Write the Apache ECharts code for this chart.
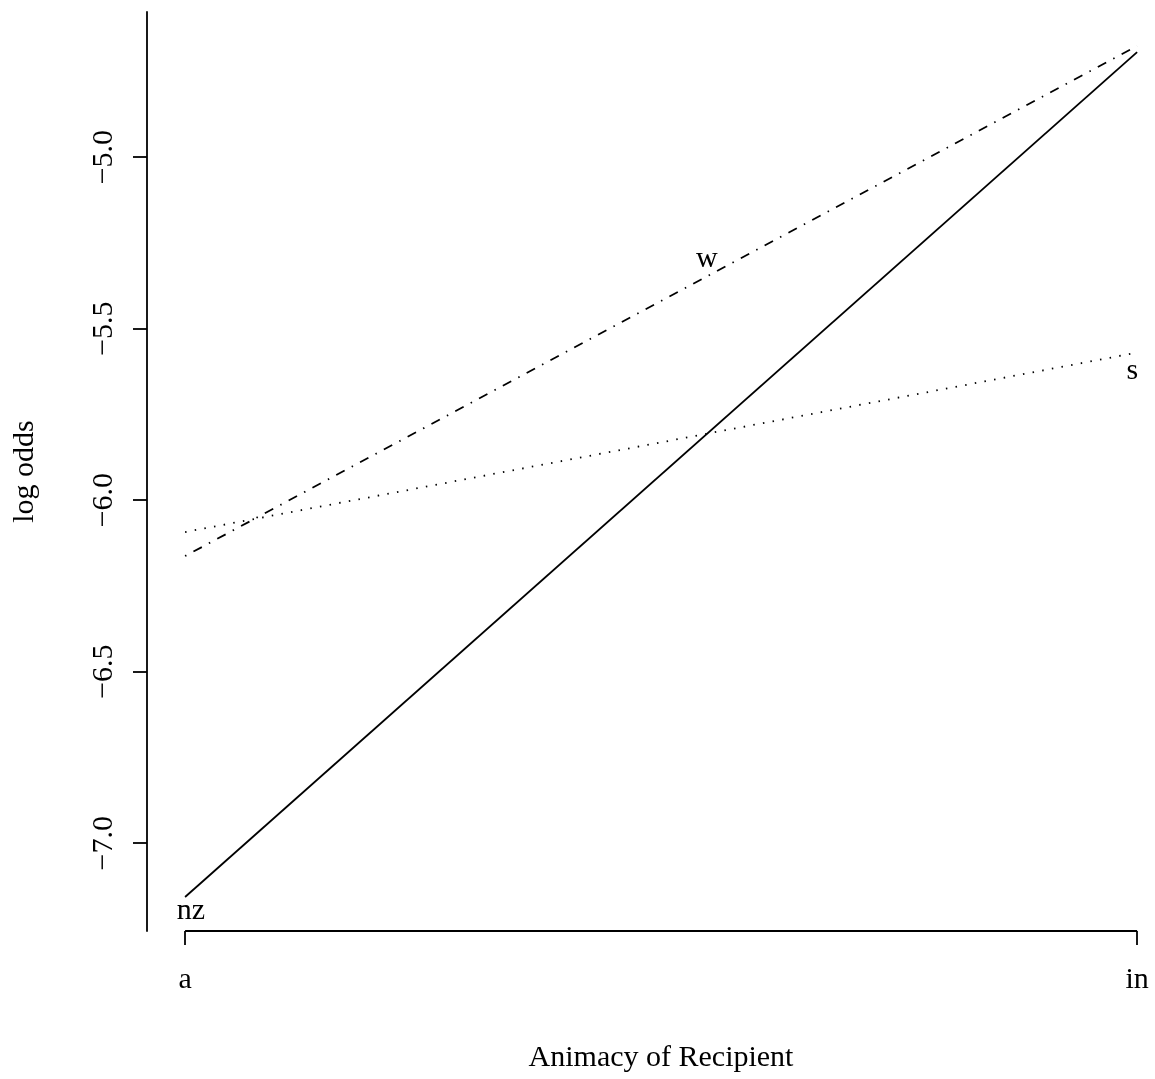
<!DOCTYPE html>
<html>
<head>
<meta charset="utf-8">
<script src="https://cdn.jsdelivr.net/npm/echarts@6/dist/echarts.min.js"></script>
<style>
html,body{margin:0;padding:0;background:#fff;}
#chart{width:1155px;height:1079px;}
</style>
</head>
<body>
<div id="chart"></div>
<script>
// Data
const categories = ['a', 'in'];
const seriesNames = ['nz', 's', 'w'];
const nzValues = [-7.157, -4.694];
const sValues = [-6.093, -5.570];
const wValues = [-6.163, -4.676];
const yTicks = [-7.0, -6.5, -6.0, -5.5, -5.0];
const labelNames = ['nz', 'w', 's'];
const labelX = [1.006, 1.548, 1.995];
const labelY = [-7.197, -5.298, -5.624];

const xMin = 0.96, xMax = 2.0188;
const yMin = -7.256, yMax = -4.577;
const FONT = '"Liberation Serif", "Times New Roman", serif';
const FS = 30;

function pts(vals) { return vals.map((v, i) => [i + 1, v]); }
function fmt(v) { return (v < 0 ? '\u2212' : '') + Math.abs(v).toFixed(1); }

const chart = echarts.init(document.getElementById('chart'), null, {renderer: 'canvas'});
chart.setOption({
  animation: false,
  backgroundColor: '#ffffff',
  grid: {left: 147, right: 0, top: 12, bottom: 148, containLabel: false},
  xAxis: {
    type: 'value', min: xMin, max: xMax,
    name: 'Animacy of Recipient', nameLocation: 'middle', nameGap: 112,
    nameTextStyle: {fontFamily: FONT, fontSize: FS, color: '#000', padding: [0, 0, 0, 20]},
    axisLine: {show: false},
    splitLine: {show: false},
    axisTick: {show: true, length: 14, customValues: [1, 2], lineStyle: {color: '#000', width: 1.8}},
    axisLabel: {show: true, margin: 34, customValues: [1, 2],
      formatter: v => categories[Math.round(v) - 1],
      fontFamily: FONT, fontSize: FS, color: '#000'}
  },
  yAxis: {
    type: 'value', min: yMin, max: yMax,
    name: 'log odds', nameLocation: 'middle', nameGap: 107, nameRotate: 90,
    nameTextStyle: {fontFamily: FONT, fontSize: FS, color: '#000'},
    axisLine: {show: true, lineStyle: {color: '#000', width: 1.8}},
    splitLine: {show: false},
    axisTick: {show: true, length: 14, customValues: yTicks, lineStyle: {color: '#000', width: 1.8}},
    axisLabel: {show: true, rotate: 90, margin: 28, customValues: yTicks,
      formatter: fmt, fontFamily: FONT, fontSize: FS, color: '#000'}
  },
  series: [
    {name: 'xaxisline', type: 'line', data: [[1, yMin], [2, yMin]], symbol: 'none', clip: false,
      lineStyle: {color: '#000', width: 1.8}, silent: true},
    {name: seriesNames[0], type: 'line', data: pts(nzValues), symbol: 'none',
      lineStyle: {color: '#000', width: 1.8, type: 'solid'}},
    {name: seriesNames[1], type: 'line', data: pts(sValues), symbol: 'none',
      lineStyle: {color: '#000', width: 1.8, type: [1.5, 8.3]}},
    {name: seriesNames[2], type: 'line', data: pts(wValues), symbol: 'none',
      lineStyle: {color: '#000', width: 1.8, type: [1.5, 8, 9.5, 8]}},
    {name: 'labels', type: 'scatter', symbolSize: 0, clip: false, silent: true,
      itemStyle: {opacity: 1, color: '#000'},
      data: labelNames.map((n, i) => ({name: n, value: [labelX[i], labelY[i]]})),
      label: {show: true, position: 'inside', formatter: p => p.name, opacity: 1,
        fontFamily: FONT, fontSize: FS, color: '#000', textBorderWidth: 0}}
  ]
});
</script>
</body>
</html>
